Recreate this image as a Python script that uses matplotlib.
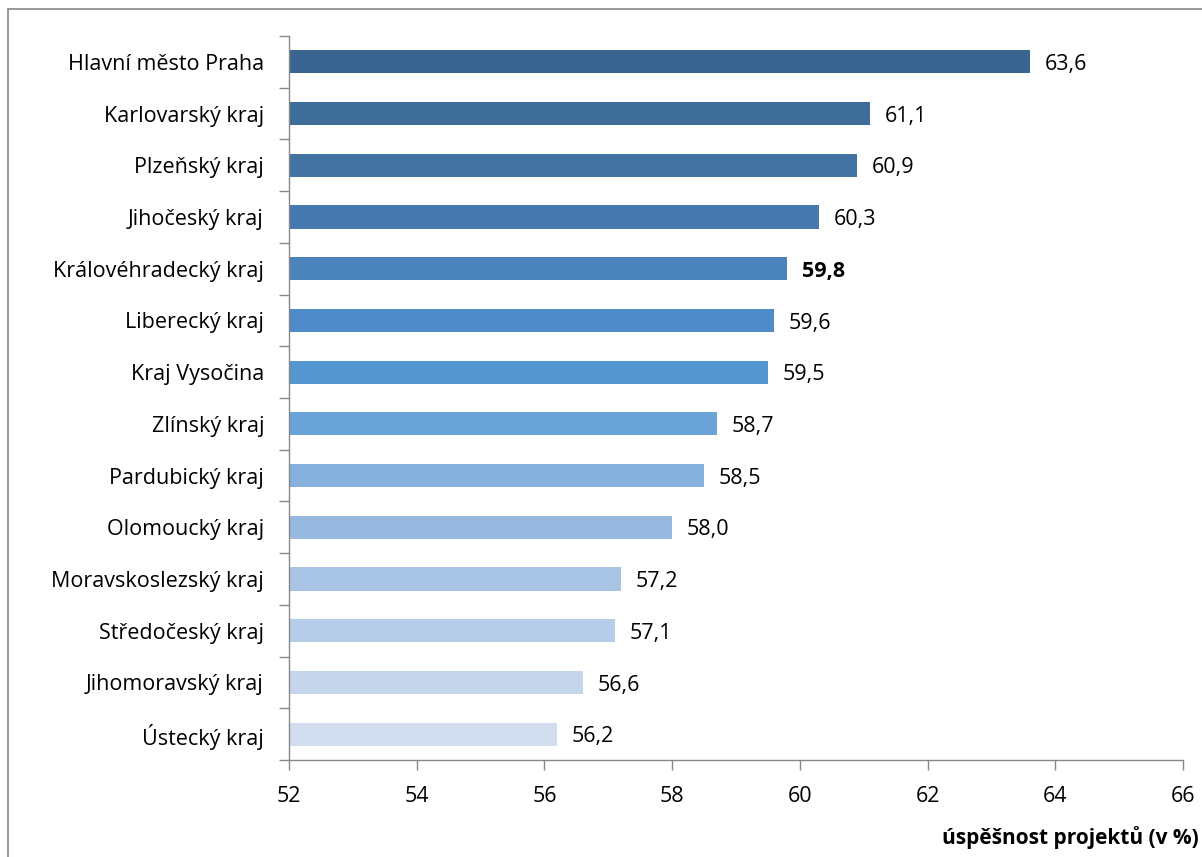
import numpy as np
import matplotlib.pyplot as plt
from matplotlib.patches import Rectangle

plt.rcParams['font.family'] = ['Open Sans', 'DejaVu Sans']

regions = ["Hlavní město Praha", "Karlovarský kraj", "Plzeňský kraj", "Jihočeský kraj",
           "Královéhradecký kraj", "Liberecký kraj", "Kraj Vysočina", "Zlínský kraj",
           "Pardubický kraj", "Olomoucký kraj", "Moravskoslezský kraj", "Středočeský kraj",
           "Jihomoravský kraj", "Ústecký kraj"]
values = [63.6, 61.1, 60.9, 60.3, 59.8, 59.6, 59.5, 58.7, 58.5, 58.0, 57.2, 57.1, 56.6, 56.2]
highlight = "Královéhradecký kraj"

colors = ["#396590", "#3D6D98", "#4273A3", "#4679B0", "#4B83BD", "#4F8BC8", "#5597D1",
          "#6AA3D8", "#86B0DE", "#97B9E0", "#A8C4E5", "#B6CDE9", "#C5D5EC", "#D2DEF0"]

W, H = 1202, 857
FS = 15.5
fig = plt.figure(figsize=(W / 100, H / 100), dpi=100)
ax = fig.add_axes([289 / W, 1 - 760 / H, (1183 - 289) / W, (760 - 36) / H])

y = np.arange(len(regions))
ax.barh(y, np.array(values) - 52, left=52, height=0.45, color=colors)
ax.set_ylim(len(regions) - 0.5, -0.5)
ax.set_xlim(52, 66)
ax.set_xticks(np.arange(52, 67, 2))

# category separators as major ticks, labels on minor ticks
ax.set_yticks(np.arange(len(regions) + 1) - 0.5, minor=False)
ax.set_yticklabels([])
ax.set_yticks(y, minor=True)
ax.set_yticklabels(regions, minor=True)
ax.tick_params(axis='y', which='minor', length=0, pad=18, labelsize=FS)
ax.tick_params(axis='y', which='major', length=7, color="#888888", width=1)
ax.tick_params(axis='x', length=7, color="#888888", width=1, pad=12, labelsize=FS)

for s in ["top", "right"]:
    ax.spines[s].set_visible(False)
for s in ["left", "bottom"]:
    ax.spines[s].set_color("#888888")
    ax.spines[s].set_linewidth(1)

for i, (r, v) in enumerate(zip(regions, values)):
    ax.text(v + 0.23, i + 0.05, f"{v:.1f}".replace(".", ","), va="center", ha="left",
            fontsize=FS, fontweight="bold" if r == highlight else "normal")

fig.text(1199 / W, 1 - 838 / H, "úspěšnost projektů (v %)", ha="right", va="center",
         fontsize=15, fontweight="bold")

fig.patches.append(Rectangle((8 / W, -0.1), 1.2, 1 - 9 / H + 0.1, transform=fig.transFigure,
                             fill=False, edgecolor="#888888", linewidth=1.2))

fig.savefig("out.png", dpi=100)
